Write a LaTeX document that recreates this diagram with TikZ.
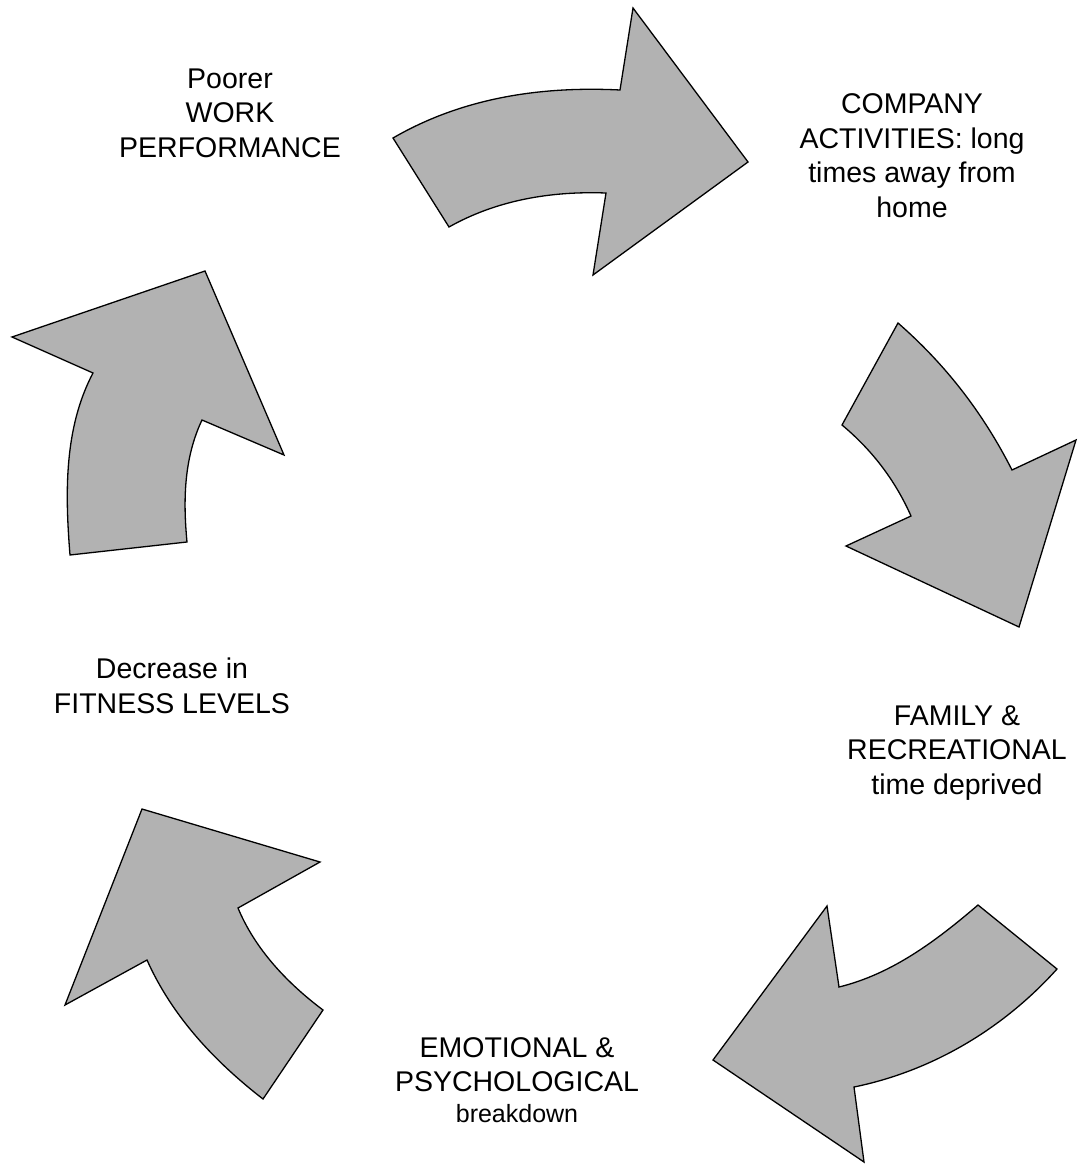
\documentclass[tikz,border=0pt]{standalone}
\usepackage{fontspec}
\setmainfont{Liberation Sans}
\definecolor{arrowgray}{RGB}{178,178,178}
\begin{document}
\begin{tikzpicture}[x=1pt,y=-1pt,
  bigarrow/.style={fill=arrowgray,draw=black,line width=1.3pt,line join=miter},
  lbl/.style={align=center,inner sep=0pt,font=\fontsize{28.5}{34.5}\selectfont}]
\useasboundingbox (0,0) rectangle (1077,1164);
% top arrow
\draw[bigarrow] (393,138) .. controls (462,98) and (540,86) .. (620,90)
  -- (633,8) -- (748,162) -- (593,275) -- (606,193)
  .. controls (551,191) and (497,200) .. (449,227) -- cycle;
% right arrow
\draw[bigarrow] (898,323) .. controls (946,365) and (983,413) .. (1012,470)
  -- (1076,440) -- (1019,627) -- (846,546) -- (911,516)
  .. controls (895,480) and (872,450) .. (842,425) -- cycle;
% bottom-right arrow
\draw[bigarrow] (978,905) -- (1057,969)
  .. controls (1003,1029) and (932,1071) .. (854,1087)
  -- (864,1162) -- (713,1060) -- (827,906) -- (839,987)
  .. controls (892,974) and (936,941) .. (978,905) -- cycle;
% bottom-left arrow
\draw[bigarrow] (323,1010) -- (263,1099)
  .. controls (214,1061) and (172,1016) .. (147,960)
  -- (65,1005) -- (142,809) -- (320,862) -- (238,908)
  .. controls (255,949) and (287,983) .. (323,1010) -- cycle;
% left arrow
\draw[bigarrow] (70,555) .. controls (65,493) and (64,428) .. (93,373)
  -- (12,337) -- (205,271) -- (284,455) -- (202,420)
  .. controls (184,458) and (183,500) .. (187,542) -- cycle;
% labels (anchor base = baseline of last line)
\node[lbl,anchor=base] (work) at (230,157) {Poorer\\WORK\\PERFORMANCE};
\node[lbl,anchor=base] (company) at (912,217) {COMPANY\\ACTIVITIES: long\\times away from\\home};
\node[lbl,anchor=base] (family) at (957,794) {FAMILY \&\\RECREATIONAL\\time deprived};
\node[lbl,anchor=base] (emotional) at (517,1122) {EMOTIONAL \&\\PSYCHOLOGICAL\\[-4pt]{\fontsize{25}{30}\selectfont breakdown}};
\node[lbl,anchor=base] (fitness) at (172,713) {Decrease in\\FITNESS LEVELS};
\end{tikzpicture}
\end{document}
